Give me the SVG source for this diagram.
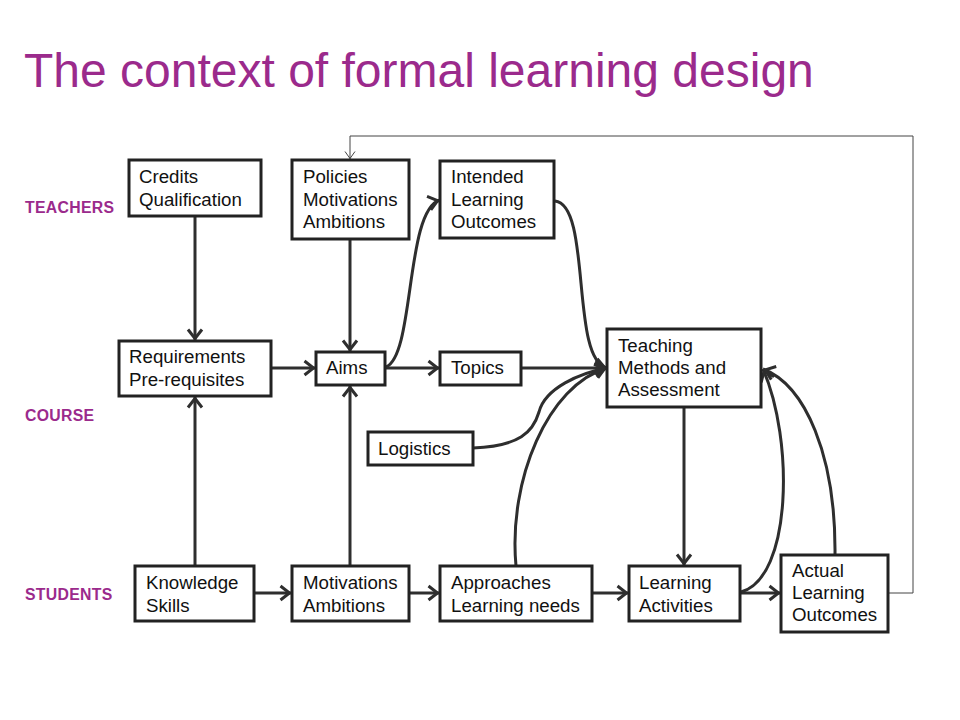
<svg xmlns="http://www.w3.org/2000/svg" width="960" height="720" viewBox="0 0 960 720">
<style>
  .box { fill: #ffffff; stroke: #222222; stroke-width: 3; }
  .t { font-family: "Liberation Sans", Arial, sans-serif; font-size: 18.7px; fill: #111111; }
  .lane { font-family: "Liberation Sans", Arial, sans-serif; font-size: 15.8px; font-weight: bold; fill: #9b2a8c; letter-spacing: 0.3px; }
  .title { font-family: "Liberation Sans", Arial, sans-serif; font-size: 48px; fill: #9b2a8c; }
  .c { fill: none; stroke: #2e2e2e; stroke-width: 3; marker-end: url(#arr); }
  .thin { fill: none; stroke: #444444; stroke-width: 1; }
</style>
<defs>
  <marker id="arr" viewBox="-14 -10 18 20" refX="2.5" refY="0" markerWidth="18" markerHeight="20" markerUnits="userSpaceOnUse" orient="auto">
    <path d="M-9,-7 L0,0 L-9,7" fill="none" stroke="#2e2e2e" stroke-width="3"/>
  </marker>
  <marker id="arrthin" viewBox="-8 -6 10 12" refX="0.5" refY="0" markerWidth="10" markerHeight="12" markerUnits="userSpaceOnUse" orient="auto">
    <path d="M-7,-5 L0,0 L-7,5" fill="none" stroke="#444444" stroke-width="1"/>
  </marker>
</defs>
<rect width="960" height="720" fill="#ffffff"/>
<text class="title" x="24" y="87">The context of formal learning design</text>
<g id="lanes">
  <text class="lane" x="25" y="213">TEACHERS</text>
  <text class="lane" x="25" y="421">COURSE</text>
  <text class="lane" x="25" y="600">STUDENTS</text>
</g>
<g id="connectors">
  <polyline class="thin" points="889,593 913,593 913,136 350,136 350,159" marker-end="url(#arrthin)"/>
  <line class="c" x1="195" y1="216" x2="195" y2="341"/>
  <line class="c" x1="350" y1="239" x2="350" y2="352"/>
  <line class="c" x1="195" y1="566" x2="195" y2="396"/>
  <line class="c" x1="350" y1="566" x2="350" y2="385"/>
  <line class="c" x1="271" y1="368" x2="316" y2="368"/>
  <line class="c" x1="385" y1="368" x2="440" y2="368"/>
  <path class="c" d="M386,367 C415,355 405,210 440,200"/>
  <path class="c" d="M555,201 C592,205 570,360 607,368"/>
  <line class="c" x1="521" y1="368" x2="607" y2="368"/>
  <path class="c" d="M473,448 C520,446 533,432 539,412 C545,388 580,373 607,368"/>
  <path class="c" d="M516,566 C508,480 548,385 607,368"/>
  <line class="c" x1="684" y1="407" x2="684" y2="566"/>
  <line class="c" x1="254" y1="593" x2="292" y2="593"/>
  <line class="c" x1="409" y1="593" x2="440" y2="593"/>
  <line class="c" x1="592" y1="593" x2="629" y2="593"/>
  <line class="c" x1="740" y1="593" x2="781" y2="593"/>
  <path class="c" d="M741,592 C792,578 794,440 763,369"/>
  <path class="c" d="M835,555 C836,455 805,385 763,369"/>
</g>
<g id="credits">
  <rect class="box" x="129" y="160" width="132" height="56"/>
  <text class="t" x="139" y="183">Credits</text>
  <text class="t" x="139" y="206">Qualification</text>
</g>
<g id="policies">
  <rect class="box" x="292" y="160" width="117" height="79"/>
  <text class="t" x="303" y="183">Policies</text>
  <text class="t" x="303" y="206">Motivations</text>
  <text class="t" x="303" y="228">Ambitions</text>
</g>
<g id="intended">
  <rect class="box" x="440" y="161" width="114" height="77"/>
  <text class="t" x="451" y="183">Intended</text>
  <text class="t" x="451" y="206">Learning</text>
  <text class="t" x="451" y="228">Outcomes</text>
</g>
<g id="requirements">
  <rect class="box" x="119" y="341" width="152" height="55"/>
  <text class="t" x="129" y="363">Requirements</text>
  <text class="t" x="129" y="386">Pre-requisites</text>
</g>
<g id="aims">
  <rect class="box" x="316" y="352" width="69" height="33"/>
  <text class="t" x="326" y="374">Aims</text>
</g>
<g id="topics">
  <rect class="box" x="440" y="352" width="81" height="33"/>
  <text class="t" x="451" y="374">Topics</text>
</g>
<g id="teaching">
  <rect class="box" x="607" y="329" width="154" height="78"/>
  <text class="t" x="618" y="352">Teaching</text>
  <text class="t" x="618" y="374">Methods and</text>
  <text class="t" x="618" y="396">Assessment</text>
</g>
<g id="logistics">
  <rect class="box" x="368" y="432" width="105" height="33"/>
  <text class="t" x="378" y="455">Logistics</text>
</g>
<g id="knowledge">
  <rect class="box" x="135" y="566" width="119" height="55"/>
  <text class="t" x="146" y="589">Knowledge</text>
  <text class="t" x="146" y="612">Skills</text>
</g>
<g id="motivations">
  <rect class="box" x="292" y="566" width="117" height="55"/>
  <text class="t" x="303" y="589">Motivations</text>
  <text class="t" x="303" y="612">Ambitions</text>
</g>
<g id="approaches">
  <rect class="box" x="440" y="566" width="152" height="55"/>
  <text class="t" x="451" y="589">Approaches</text>
  <text class="t" x="451" y="612">Learning needs</text>
</g>
<g id="activities">
  <rect class="box" x="629" y="566" width="111" height="55"/>
  <text class="t" x="639" y="589">Learning</text>
  <text class="t" x="639" y="612">Activities</text>
</g>
<g id="actual">
  <rect class="box" x="781" y="555" width="107" height="77"/>
  <text class="t" x="792" y="577">Actual</text>
  <text class="t" x="792" y="599">Learning</text>
  <text class="t" x="792" y="621">Outcomes</text>
</g>
</svg>
